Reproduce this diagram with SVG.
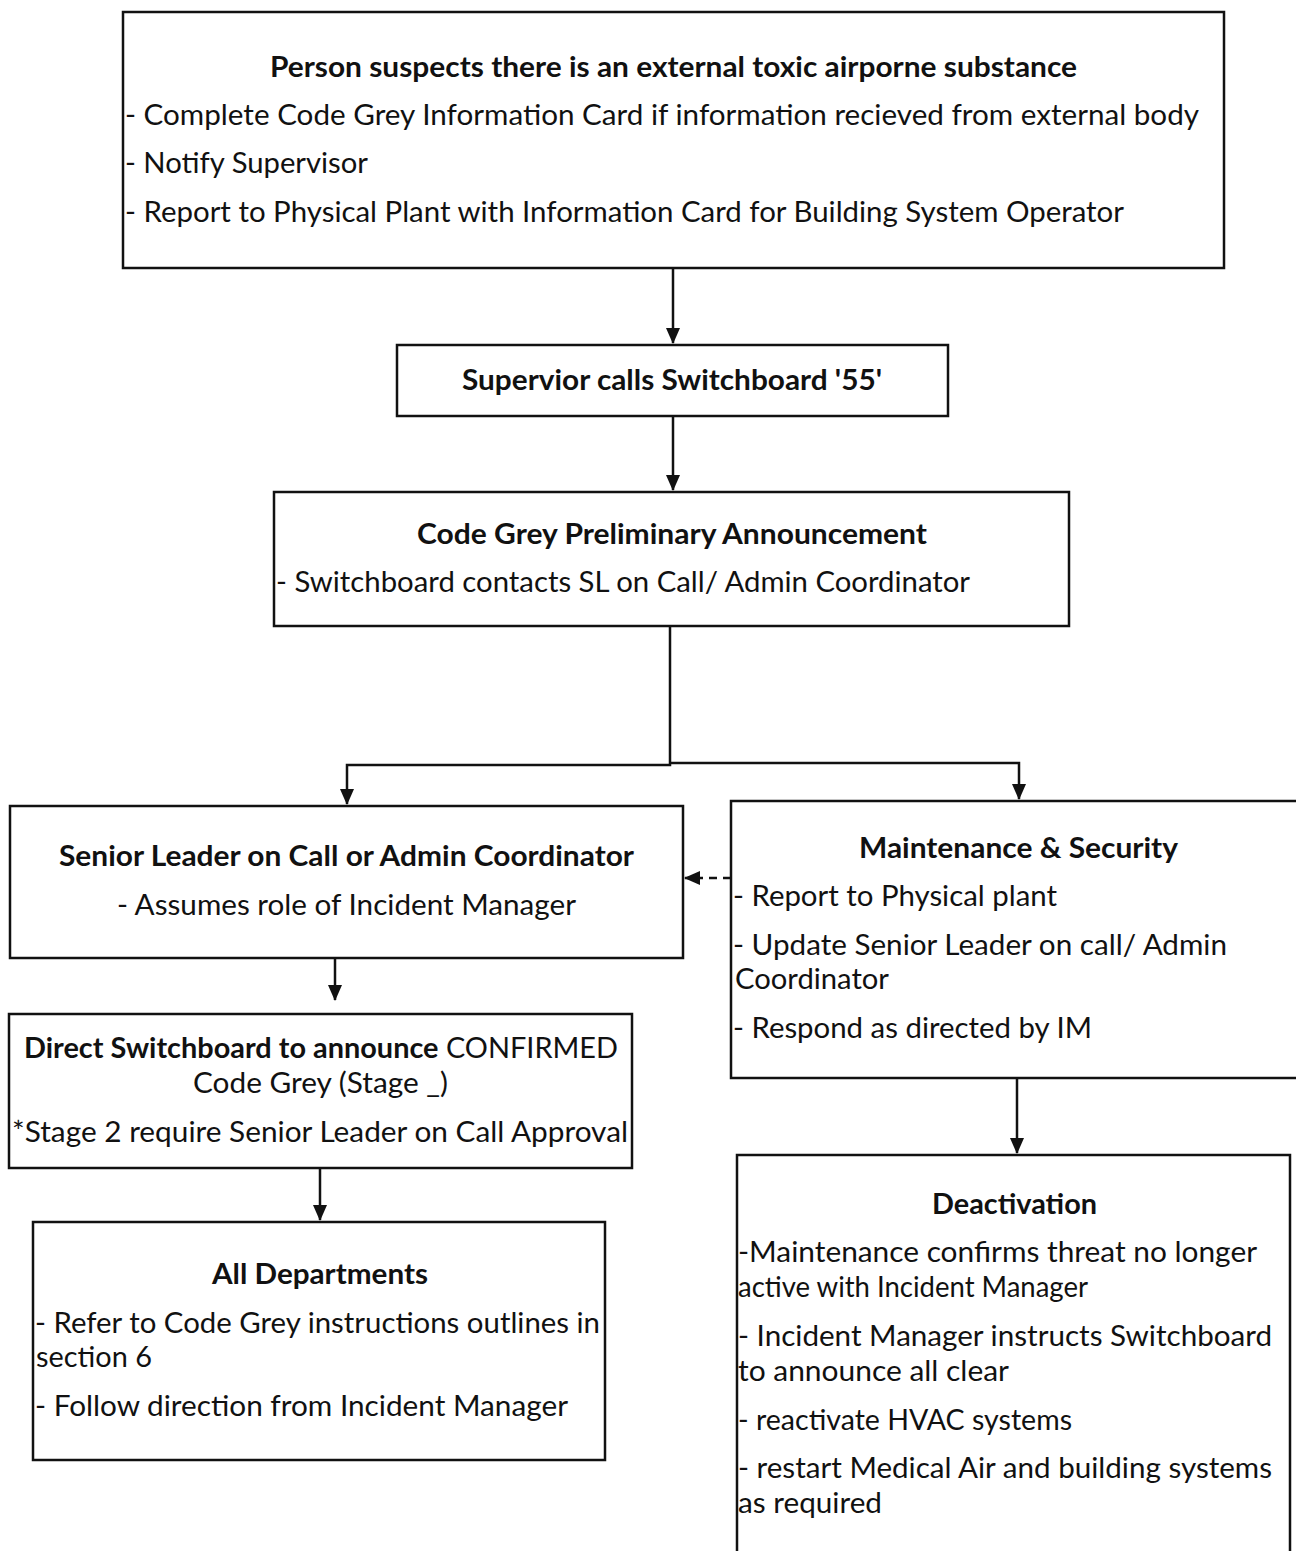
<svg xmlns="http://www.w3.org/2000/svg" width="1296" height="1551" viewBox="0 0 1296 1551">
<style>
.box{fill:#fff;stroke:#111;stroke-width:2.5}
.t{font-family:Lato,"Liberation Sans",sans-serif;font-size:28px;fill:#111}
.b{font-weight:bold}
.c{text-anchor:middle}
.ln{fill:none;stroke:#111;stroke-width:2.5}
</style>
<defs>
<marker id="ah" markerUnits="userSpaceOnUse" markerWidth="16" markerHeight="16" viewBox="0 0 16 16" refX="15" refY="8" orient="auto">
<path d="M0,1 L16,8 L0,15 Z" fill="#111"/>
</marker>
</defs>
<rect width="1296" height="1551" fill="#fff"/>
<g id="connectors">
<path class="ln" d="M673,268 V343" marker-end="url(#ah)"/>
<path class="ln" d="M673,416 V490" marker-end="url(#ah)"/>
<path class="ln" d="M670,626 V765 H347 V804" marker-end="url(#ah)"/>
<path class="ln" d="M670,763 H1019 V799" marker-end="url(#ah)"/>
<path class="ln" d="M731,878 H685" stroke-dasharray="8,6" marker-end="url(#ah)"/>
<path class="ln" d="M335,958 V1000" marker-end="url(#ah)"/>
<path class="ln" d="M320,1168 V1220" marker-end="url(#ah)"/>
<path class="ln" d="M1017,1078 V1153" marker-end="url(#ah)"/>
</g>
<g id="n1">
<rect class="box" x="123" y="12" width="1101" height="256"/>
<text class="t b" x="270" y="77" textLength="807" lengthAdjust="spacingAndGlyphs">Person suspects there is an external toxic airporne substance</text>
<text class="t" x="125" y="125" textLength="1074" lengthAdjust="spacingAndGlyphs">- Complete Code Grey Information Card if information recieved from external body</text>
<text class="t" x="125" y="173" textLength="243" lengthAdjust="spacingAndGlyphs">- Notify Supervisor</text>
<text class="t" x="125" y="222" textLength="999" lengthAdjust="spacingAndGlyphs">- Report to Physical Plant with Information Card for Building System Operator</text>
</g>
<g id="n2">
<rect class="box" x="397" y="345" width="551" height="71"/>
<text class="t b" x="462" y="390" textLength="420" lengthAdjust="spacingAndGlyphs">Supervior calls Switchboard '55'</text>
</g>
<g id="n3">
<rect class="box" x="274" y="492" width="795" height="134"/>
<text class="t b" x="417" y="544" textLength="510" lengthAdjust="spacingAndGlyphs">Code Grey Preliminary Announcement</text>
<text class="t" x="276" y="592" textLength="694" lengthAdjust="spacingAndGlyphs">- Switchboard contacts SL on Call/ Admin Coordinator</text>
</g>
<g id="n4">
<rect class="box" x="10" y="806" width="673" height="152"/>
<text class="t b" x="59" y="866" textLength="575" lengthAdjust="spacingAndGlyphs">Senior Leader on Call or Admin Coordinator</text>
<text class="t" x="117" y="915" textLength="459" lengthAdjust="spacingAndGlyphs">- Assumes role of Incident Manager</text>
</g>
<g id="n5">
<rect class="box" x="731" y="801" width="570" height="277"/>
<text class="t b" x="859" y="858" textLength="319" lengthAdjust="spacingAndGlyphs">Maintenance &amp; Security</text>
<text class="t" x="733" y="906" textLength="324" lengthAdjust="spacingAndGlyphs">- Report to Physical plant</text>
<text class="t" x="733" y="955" textLength="494" lengthAdjust="spacingAndGlyphs">- Update Senior Leader on call/ Admin</text>
<text class="t" x="735" y="989" textLength="154" lengthAdjust="spacingAndGlyphs">Coordinator</text>
<text class="t" x="733" y="1038" textLength="359" lengthAdjust="spacingAndGlyphs">- Respond as directed by IM</text>
</g>
<g id="n6">
<rect class="box" x="9" y="1014" width="623" height="154"/>
<text class="t" x="24" y="1058" textLength="594" lengthAdjust="spacingAndGlyphs"><tspan class="b">Direct Switchboard to announce</tspan> CONFIRMED</text>
<text class="t" x="193" y="1093" textLength="255" lengthAdjust="spacingAndGlyphs">Code Grey (Stage _)</text>
<text class="t" x="12" y="1142" textLength="616" lengthAdjust="spacingAndGlyphs">*Stage 2 require Senior Leader on Call Approval</text>
</g>
<g id="n7">
<rect class="box" x="33" y="1222" width="572" height="238"/>
<text class="t b" x="212" y="1284" textLength="216" lengthAdjust="spacingAndGlyphs">All Departments</text>
<text class="t" x="35" y="1333" textLength="565" lengthAdjust="spacingAndGlyphs">- Refer to Code Grey instructions outlines in</text>
<text class="t" x="36" y="1367" textLength="116" lengthAdjust="spacingAndGlyphs">section 6</text>
<text class="t" x="35" y="1416" textLength="533" lengthAdjust="spacingAndGlyphs">- Follow direction from Incident Manager</text>
</g>
<g id="n8">
<path class="box" d="M737,1560 V1155 H1290 V1560"/>
<text class="t b" x="932" y="1214" textLength="165" lengthAdjust="spacingAndGlyphs">Deactivation</text>
<text class="t" x="738" y="1262" textLength="519" lengthAdjust="spacingAndGlyphs">-Maintenance confirms threat no longer</text>
<text class="t" x="738" y="1297" textLength="350" lengthAdjust="spacingAndGlyphs">active with Incident Manager</text>
<text class="t" x="738" y="1346" textLength="534" lengthAdjust="spacingAndGlyphs">- Incident Manager instructs Switchboard</text>
<text class="t" x="738" y="1381" textLength="271" lengthAdjust="spacingAndGlyphs">to announce all clear</text>
<text class="t" x="738" y="1430" textLength="334" lengthAdjust="spacingAndGlyphs">- reactivate HVAC systems</text>
<text class="t" x="738" y="1478" textLength="534" lengthAdjust="spacingAndGlyphs">- restart Medical Air and building systems</text>
<text class="t" x="738" y="1513" textLength="144" lengthAdjust="spacingAndGlyphs">as required</text>
</g>
</svg>
